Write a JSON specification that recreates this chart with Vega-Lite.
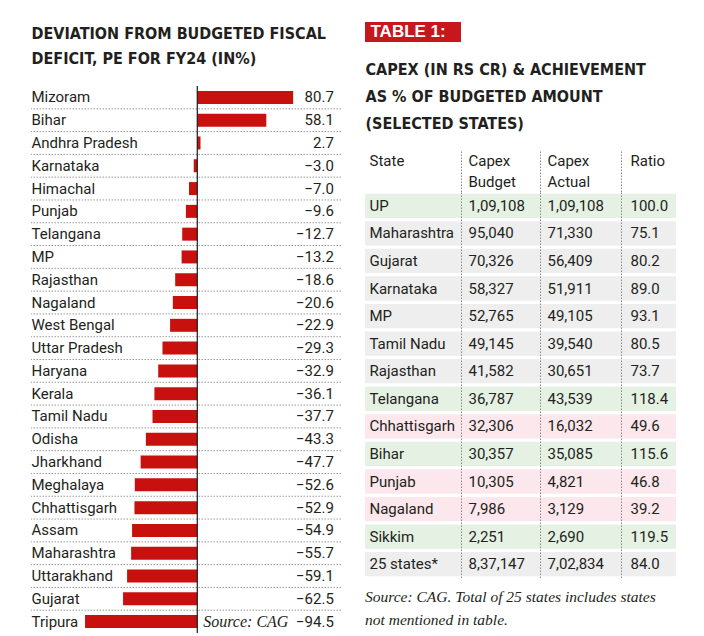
{
  "$schema": "https://vega.github.io/schema/vega-lite/v6.json",
  "padding": {"left": 30, "top": 22, "right": 0, "bottom": 0},
  "background": "white",
  "config": {"view": {"stroke": null}, "axis": {"minExtent": 0}, "font": "Roboto"},
  "datasets": {
    "deficit": [
      {"State": "Mizoram", "value": 80.7},
      {"State": "Bihar", "value": 58.1},
      {"State": "Andhra Pradesh", "value": 2.7},
      {"State": "Karnataka", "value": -3.0},
      {"State": "Himachal", "value": -7.0},
      {"State": "Punjab", "value": -9.6},
      {"State": "Telangana", "value": -12.7},
      {"State": "MP", "value": -13.2},
      {"State": "Rajasthan", "value": -18.6},
      {"State": "Nagaland", "value": -20.6},
      {"State": "West Bengal", "value": -22.9},
      {"State": "Uttar Pradesh", "value": -29.3},
      {"State": "Haryana", "value": -32.9},
      {"State": "Kerala", "value": -36.1},
      {"State": "Tamil Nadu", "value": -37.7},
      {"State": "Odisha", "value": -43.3},
      {"State": "Jharkhand", "value": -47.7},
      {"State": "Meghalaya", "value": -52.6},
      {"State": "Chhattisgarh", "value": -52.9},
      {"State": "Assam", "value": -54.9},
      {"State": "Maharashtra", "value": -55.7},
      {"State": "Uttarakhand", "value": -59.1},
      {"State": "Gujarat", "value": -62.5},
      {"State": "Tripura", "value": -94.5}
    ],
    "capex": [
      {"State": "UP", "Budget": "1,09,108", "Actual": "1,09,108", "Ratio": 100.0},
      {"State": "Maharashtra", "Budget": "95,040", "Actual": "71,330", "Ratio": 75.1},
      {"State": "Gujarat", "Budget": "70,326", "Actual": "56,409", "Ratio": 80.2},
      {"State": "Karnataka", "Budget": "58,327", "Actual": "51,911", "Ratio": 89.0},
      {"State": "MP", "Budget": "52,765", "Actual": "49,105", "Ratio": 93.1},
      {"State": "Tamil Nadu", "Budget": "49,145", "Actual": "39,540", "Ratio": 80.5},
      {"State": "Rajasthan", "Budget": "41,582", "Actual": "30,651", "Ratio": 73.7},
      {"State": "Telangana", "Budget": "36,787", "Actual": "43,539", "Ratio": 118.4},
      {"State": "Chhattisgarh", "Budget": "32,306", "Actual": "16,032", "Ratio": 49.6},
      {"State": "Bihar", "Budget": "30,357", "Actual": "35,085", "Ratio": 115.6},
      {"State": "Punjab", "Budget": "10,305", "Actual": "4,821", "Ratio": 46.8},
      {"State": "Nagaland", "Budget": "7,986", "Actual": "3,129", "Ratio": 39.2},
      {"State": "Sikkim", "Budget": "2,251", "Actual": "2,690", "Ratio": 119.5},
      {"State": "25 states*", "Budget": "8,37,147", "Actual": "7,02,834", "Ratio": 84.0}
    ]
  },
  "spacing": 23,
  "hconcat": [
    {
      "spacing": 14,
      "vconcat": [
        {
          "width": 310, "height": 49,
          "data": {"values": [{"line": "DEVIATION FROM BUDGETED FISCAL"}, {"line": "DEFICIT, PE FOR FY24 (IN%)"}]},
          "mark": {"type": "bar", "opacity": 0},
          "encoding": {"y": {"field": "line", "type": "nominal", "sort": null, "scale": {"paddingInner": 0, "paddingOuter": 0},
            "axis": {"title": null, "labelAlign": "left", "labelPadding": 0, "ticks": false, "tickSize": 0, "domain": false, "labelColor": "#231f20", "labelFont": "DejaVu Sans Condensed", "labelFontSize": 16, "labelFontWeight": "bold", "labelLimit": 400, "zindex": 1, "minExtent": 0}}}
        },
        {
          "width": 310,
          "height": 547,
          "data": {"name": "deficit"},
          "layer": [
            {
              "mark": {"type": "bar", "color": "#c8110e", "height": {"band": 0.57}},
              "encoding": {
                "y": {"field": "State", "type": "nominal", "sort": null, "scale": {"paddingInner": 0, "paddingOuter": 0},
                  "axis": {"title": null, "labelAlign": "left", "labelPadding": 0, "ticks": false, "tickSize": 0, "domain": false, "grid": false, "labelFont": "Roboto", "labelFontSize": 15, "labelColor": "#231f20", "zindex": 1, "minExtent": 0, "labelLimit": 200}},
                "x": {"field": "value", "type": "quantitative", "scale": {"domain": [-140, 121], "nice": false}, "axis": null}
              }
            },
            {
              "mark": {"type": "rule", "color": "#9a9a9a", "strokeDash": [1.5, 1.5], "strokeWidth": 1},
              "encoding": {
                "y": {"field": "State", "type": "nominal", "sort": null, "bandPosition": 0},
                "strokeOpacity": {"condition": {"test": "datum.State === 'Mizoram'", "value": 0}, "value": 1}
              }
            },
            {
              "data": {"values": [{}]},
              "mark": {"type": "rule", "color": "#1a1a1a", "strokeWidth": 1.2},
              "encoding": {"x": {"datum": 0}}
            },
            {
              "mark": {"type": "text", "align": "right", "baseline": "middle", "font": "Roboto", "fontSize": 15, "color": "#231f20"},
              "encoding": {
                "y": {"field": "State", "type": "nominal", "sort": null},
                "x": {"datum": 115},
                "text": {"field": "value", "type": "quantitative", "format": ".1f"}
              }
            },
            {
              "data": {"values": [{"State": "Tripura", "note": "Source: CAG"}]},
              "mark": {"type": "text", "align": "left", "baseline": "middle", "font": "Liberation Serif", "fontStyle": "italic", "fontSize": 16, "color": "#231f20"},
              "encoding": {
                "y": {"field": "State", "type": "nominal", "sort": null},
                "x": {"datum": 5},
                "text": {"field": "note"}
              }
            }
          ]
        }
      ]
    },
    {
      "spacing": 14,
      "vconcat": [
        {
          "width": 96,
          "height": 20,
          "data": {"values": [{"t": "TABLE 1:"}]},
          "mark": {"type": "bar", "color": "#c8161d"},
          "encoding": {
            "y": {"field": "t", "type": "nominal", "scale": {"paddingInner": 0, "paddingOuter": 0},
              "axis": {"title": null, "labelAlign": "left", "labelPadding": -5, "ticks": false, "tickSize": 0, "domain": false, "labelColor": "#ffffff", "labelFont": "Liberation Sans", "labelFontSize": 17, "labelFontWeight": "bold", "zindex": 1, "minExtent": 0}}
          }
        },
        {
          "width": 311, "height": 81,
          "data": {"values": [{"line": "CAPEX (IN RS CR) & ACHIEVEMENT"}, {"line": "AS % OF BUDGETED AMOUNT"}, {"line": "(SELECTED STATES)"}]},
          "mark": {"type": "bar", "opacity": 0},
          "encoding": {"y": {"field": "line", "type": "nominal", "sort": null, "scale": {"paddingInner": 0, "paddingOuter": 0},
            "axis": {"title": null, "labelAlign": "left", "labelPadding": 0, "ticks": false, "tickSize": 0, "domain": false, "labelColor": "#231f20", "labelFont": "DejaVu Sans Condensed", "labelFontSize": 16, "labelFontWeight": "bold", "labelLimit": 400, "zindex": 1, "minExtent": 0}}}
        },
        {
          "spacing": 0,
          "vconcat": [
            {
              "spacing": 0,
              "hconcat": [
                {
                  "width": 96, "height": 41,
                  "data": {"values": [{"h": "State"}]},
                  "mark": {"type": "bar", "opacity": 0},
                  "encoding": {"y": {"field": "h", "type": "nominal", "sort": null, "scale": {"domain": ["State", " "], "paddingInner": 0, "paddingOuter": 0},
                    "axis": {"title": null, "labelAlign": "left", "labelPadding": -4, "ticks": false, "tickSize": 0, "domain": false, "labelColor": "#231f20", "labelFont": "Roboto", "labelFontSize": 15, "zindex": 1, "minExtent": 0}}}
                },
                {
                  "width": 79, "height": 41,
                  "data": {"values": [{"h": "Capex"}, {"h": "Budget"}]},
                  "mark": {"type": "bar", "opacity": 0},
                  "encoding": {"y": {"field": "h", "type": "nominal", "sort": null, "scale": {"domain": ["Capex", "Budget"], "paddingInner": 0, "paddingOuter": 0},
                    "axis": {"title": null, "labelAlign": "left", "labelPadding": -7, "ticks": false, "tickSize": 0, "domain": true, "domainDash": [1.5, 1.5], "domainColor": "#8a8a8a", "labelColor": "#231f20", "labelFont": "Roboto", "labelFontSize": 15, "zindex": 1, "minExtent": 0}}}
                },
                {
                  "width": 81, "height": 41,
                  "data": {"values": [{"h": "Capex"}, {"h": "Actual"}]},
                  "mark": {"type": "bar", "opacity": 0},
                  "encoding": {"y": {"field": "h", "type": "nominal", "sort": null, "scale": {"domain": ["Capex", "Actual"], "paddingInner": 0, "paddingOuter": 0},
                    "axis": {"title": null, "labelAlign": "left", "labelPadding": -7, "ticks": false, "tickSize": 0, "domain": true, "domainDash": [1.5, 1.5], "domainColor": "#8a8a8a", "labelColor": "#231f20", "labelFont": "Roboto", "labelFontSize": 15, "zindex": 1, "minExtent": 0}}}
                },
                {
                  "width": 55, "height": 41,
                  "data": {"values": [{"h": "Ratio"}]},
                  "mark": {"type": "bar", "opacity": 0},
                  "encoding": {"y": {"field": "h", "type": "nominal", "sort": null, "scale": {"domain": ["Ratio", " "], "paddingInner": 0, "paddingOuter": 0},
                    "axis": {"title": null, "labelAlign": "left", "labelPadding": -9, "ticks": false, "tickSize": 0, "domain": true, "domainDash": [1.5, 1.5], "domainColor": "#8a8a8a", "labelColor": "#231f20", "labelFont": "Roboto", "labelFontSize": 15, "zindex": 1, "minExtent": 0}}}
                }
              ]
            },
            {
              "spacing": 0,
              "title": {"text": ["Source: CAG. Total of 25 states includes states", "not mentioned in table."], "orient": "bottom", "anchor": "start", "font": "Liberation Serif", "fontStyle": "italic", "fontWeight": "normal", "fontSize": 15.5, "lineHeight": 23, "color": "#231f20", "offset": 12},
              "hconcat": [
                {
                  "width": 96, "height": 386,
                  "data": {"name": "capex"},
                  "mark": {"type": "bar"},
                  "encoding": {
                    "y": {"field": "State", "type": "nominal", "sort": null, "scale": {"paddingInner": 0.12, "paddingOuter": 0.06},
                      "axis": {"title": null, "labelAlign": "left", "labelPadding": -4, "ticks": false, "tickSize": 0, "domain": false, "labelColor": "#231f20", "labelFont": "Roboto", "labelFontSize": 15, "zindex": 1, "minExtent": 0, "labelLimit": 200}},
                    "color": {"condition": [{"test": "datum.Ratio >= 100", "value": "#e4f1e3"}, {"test": "datum.Ratio < 50", "value": "#fbe7ec"}], "value": "#eeeeee"}
                  }
                },
                {
                  "width": 79, "height": 386,
                  "data": {"name": "capex"},
                  "mark": {"type": "bar"},
                  "encoding": {
                    "y": {"field": "Budget", "type": "nominal", "sort": null, "scale": {"paddingInner": 0.12, "paddingOuter": 0.06},
                      "axis": {"title": null, "labelAlign": "left", "labelPadding": -7, "ticks": false, "tickSize": 0, "domain": true, "domainDash": [1.5, 1.5], "domainColor": "#8a8a8a", "labelColor": "#231f20", "labelFont": "Roboto", "labelFontSize": 15, "zindex": 1, "minExtent": 0}},
                    "color": {"condition": [{"test": "datum.Ratio >= 100", "value": "#e4f1e3"}, {"test": "datum.Ratio < 50", "value": "#fbe7ec"}], "value": "#eeeeee"}
                  }
                },
                {
                  "width": 81, "height": 386,
                  "data": {"name": "capex"},
                  "mark": {"type": "bar"},
                  "encoding": {
                    "y": {"field": "Actual", "type": "nominal", "sort": null, "scale": {"paddingInner": 0.12, "paddingOuter": 0.06},
                      "axis": {"title": null, "labelAlign": "left", "labelPadding": -7, "ticks": false, "tickSize": 0, "domain": true, "domainDash": [1.5, 1.5], "domainColor": "#8a8a8a", "labelColor": "#231f20", "labelFont": "Roboto", "labelFontSize": 15, "zindex": 1, "minExtent": 0}},
                    "color": {"condition": [{"test": "datum.Ratio >= 100", "value": "#e4f1e3"}, {"test": "datum.Ratio < 50", "value": "#fbe7ec"}], "value": "#eeeeee"}
                  }
                },
                {
                  "width": 55, "height": 386,
                  "data": {"name": "capex"},
                  "mark": {"type": "bar"},
                  "encoding": {
                    "y": {"field": "Ratio", "type": "nominal", "sort": null, "scale": {"paddingInner": 0.12, "paddingOuter": 0.06},
                      "axis": {"title": null, "labelAlign": "left", "labelPadding": -9, "ticks": false, "tickSize": 0, "domain": true, "domainDash": [1.5, 1.5], "domainColor": "#8a8a8a", "labelColor": "#231f20", "labelFont": "Roboto", "labelFontSize": 15, "zindex": 1, "minExtent": 0, "labelExpr": "format(datum.value, '.1f')"}},
                    "color": {"condition": [{"test": "datum.Ratio >= 100", "value": "#e4f1e3"}, {"test": "datum.Ratio < 50", "value": "#fbe7ec"}], "value": "#eeeeee"}
                  }
                }
              ]
            }
          ]
        }
      ]
    }
  ]
}
